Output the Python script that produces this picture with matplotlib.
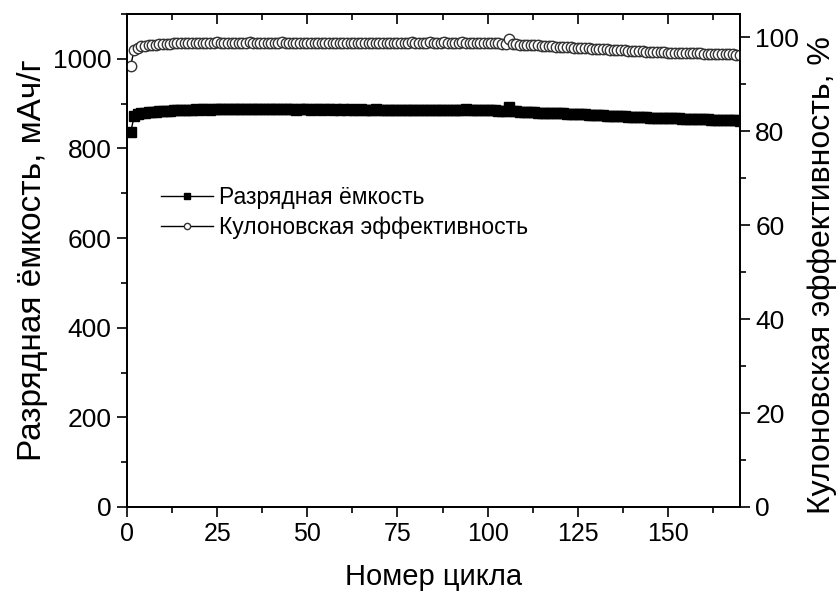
import numpy as np
import matplotlib
matplotlib.use('Agg')
import matplotlib.pyplot as plt
from matplotlib.ticker import MultipleLocator, NullFormatter

plt.rcParams['font.family'] = ['Liberation Sans', 'DejaVu Sans']

# cycle numbers 1..170
cycles = np.arange(1, 171)

# discharge capacity, mAh/g
capacity = [
    836, 872, 877, 879, 880, 881, 882, 882, 883, 883,
    884, 884, 885, 885, 885, 886, 886, 886, 887, 886,
    887, 887, 886, 887, 887, 887, 888, 887, 887, 887,
    887, 888, 887, 887, 887, 888, 887, 887, 887, 887,
    887, 887, 887, 888, 887, 887, 886, 887, 887, 887,
    886, 887, 887, 886, 887, 887, 886, 887, 886, 887,
    886, 887, 886, 886, 887, 886, 886, 886, 887, 886,
    886, 886, 886, 885, 886, 886, 886, 886, 885, 886,
    886, 886, 885, 886, 886, 886, 885, 886, 886, 886,
    886, 886, 886, 887, 886, 886, 886, 886, 886, 885,
    885, 885, 884, 884, 883, 893, 883, 883, 882, 882,
    882, 881, 881, 880, 880, 880, 879, 879, 878, 878,
    878, 877, 877, 877, 876, 876, 876, 875, 875, 874,
    874, 874, 873, 873, 873, 872, 872, 872, 871, 871,
    871, 870, 870, 870, 869, 869, 869, 868, 868, 868,
    867, 867, 867, 866, 866, 866, 866, 865, 865, 865,
    865, 864, 864, 864, 864, 863, 863, 863, 863, 862,
]

# coulombic efficiency, %
efficiency = [
    94.0, 97.3, 97.8, 98.1, 98.2, 98.4, 98.5, 98.5, 98.6, 98.6,
    98.7, 98.7, 98.8, 98.8, 98.8, 98.9, 98.8, 98.9, 98.9, 98.8,
    98.9, 98.9, 98.8, 98.9, 99.0, 98.9, 98.9, 98.9, 98.8, 98.9,
    98.9, 98.9, 98.9, 99.0, 98.9, 98.9, 98.8, 98.9, 98.9, 98.9,
    98.9, 98.9, 99.0, 98.9, 98.9, 98.9, 98.8, 98.9, 98.9, 98.9,
    98.9, 98.9, 98.8, 98.9, 98.9, 98.9, 98.9, 98.9, 98.8, 98.9,
    98.9, 98.9, 98.9, 98.9, 98.8, 98.9, 98.9, 98.9, 98.9, 98.9,
    98.9, 98.9, 98.9, 98.9, 98.9, 98.9, 98.9, 98.9, 99.0, 98.9,
    98.9, 98.9, 98.9, 99.0, 98.9, 98.9, 98.9, 99.0, 98.9, 98.9,
    98.9, 98.9, 99.0, 98.9, 98.9, 98.9, 98.9, 98.9, 98.9, 98.9,
    98.8, 98.8, 98.8, 98.7, 98.7, 99.7, 98.6, 98.6, 98.5, 98.5,
    98.4, 98.4, 98.3, 98.3, 98.2, 98.2, 98.1, 98.1, 98.0, 98.0,
    98.0, 97.9, 97.9, 97.8, 97.8, 97.7, 97.7, 97.7, 97.6, 97.6,
    97.5, 97.5, 97.5, 97.4, 97.4, 97.3, 97.3, 97.3, 97.2, 97.2,
    97.2, 97.1, 97.1, 97.0, 97.0, 97.0, 96.9, 96.9, 96.9, 96.8,
    96.8, 96.8, 96.7, 96.7, 96.7, 96.6, 96.6, 96.6, 96.6, 96.5,
    96.5, 96.5, 96.5, 96.4, 96.4, 96.4, 96.4, 96.4, 96.3, 96.3,
]

fig = plt.figure(figsize=(8.38, 5.95), dpi=100)
ax = fig.add_axes([127 / 838, 1 - 507 / 595, 613 / 838, 493 / 595])
ax2 = ax.twinx()

l1, = ax.plot(cycles, capacity, color='black', lw=1, marker='s', ms=7,
              mfc='black', mec='black', label='Разрядная ёмкость')
l2, = ax2.plot(cycles, efficiency, color='black', lw=1, marker='o', ms=7.5,
               mfc='white', mec='#333333', mew=1.0, label='Кулоновская эффективность')

ax.set_xlim(0, 170)
ax.set_ylim(0, 1100)
ax2.set_ylim(0, 105)

ax.xaxis.set_major_locator(MultipleLocator(25))
ax.xaxis.set_minor_locator(MultipleLocator(12.5))
ax.yaxis.set_major_locator(MultipleLocator(200))
ax.yaxis.set_minor_locator(MultipleLocator(100))
ax2.yaxis.set_major_locator(MultipleLocator(20))
ax2.yaxis.set_minor_locator(MultipleLocator(10))

ax.tick_params(axis='both', which='major', direction='out', length=7, width=1.2,
               labelsize=18, pad=4)
ax.tick_params(axis='y', which='major', labelsize=19)
ax.tick_params(axis='both', which='minor', direction='out', length=4, width=1.2)
ax2.tick_params(axis='y', which='major', direction='out', length=7, width=1.2,
                labelsize=19, pad=4)
ax2.tick_params(axis='y', which='minor', direction='out', length=4, width=1.2)

# inward ticks along the top edge
top = ax.secondary_xaxis('top')
top.xaxis.set_major_locator(MultipleLocator(25))
top.xaxis.set_minor_locator(MultipleLocator(12.5))
top.xaxis.set_major_formatter(NullFormatter())
top.tick_params(which='major', direction='in', length=7, width=1.2)
top.tick_params(which='minor', direction='in', length=4, width=1.2)
top.spines['top'].set_linewidth(1.3)

for a in (ax, ax2):
    for s in a.spines.values():
        s.set_linewidth(1.3)

ax.set_xlabel('Номер цикла', fontsize=21, labelpad=12)
ax.set_ylabel('Разрядная ёмкость, мАч/г', fontsize=24, labelpad=4)
ax2.set_ylabel('Кулоновская эффективность, %', fontsize=23)
ax2.yaxis.set_label_coords(1.11, 0.47)

ax2.legend(handles=[l1, l2], loc='upper left', bbox_to_anchor=(0.04, 0.67),
           frameon=False, fontsize=16.5, markerscale=0.6, handlelength=2.3,
           handletextpad=0.25, labelspacing=0.3, borderaxespad=0)

fig.savefig('out.png', dpi=100)
